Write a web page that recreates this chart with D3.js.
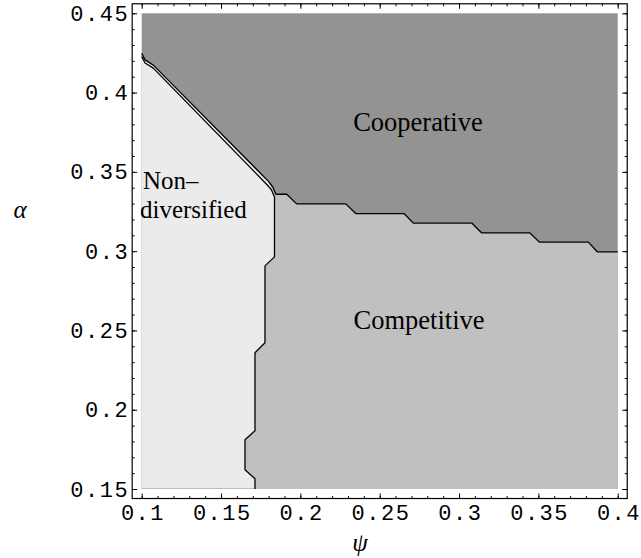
<!DOCTYPE html>
<html><head><meta charset="utf-8">
<script src="https://cdn.jsdelivr.net/npm/d3@7"></script>
<style>body{margin:0;background:#fff}svg{display:block}</style>
</head><body>
<svg id="c" width="641" height="558"></svg>
<script>
// ---- data ----
const psiDomain = [0.1, 0.4];
const alphaDomain = [0.15, 0.45];
const xTickValues = [0.1, 0.15, 0.2, 0.25, 0.3, 0.35, 0.4];
const xTickLabels = ["0.1", "0.15", "0.2", "0.25", "0.3", "0.35", "0.4"];
const yTickValues = [0.15, 0.2, 0.25, 0.3, 0.35, 0.4, 0.45];
const yTickLabels = ["0.15", "0.2", "0.25", "0.3", "0.35", "0.4", "0.45"];
const minorStep = 0.01;

// upper boundary: cooperative region above it
const coopBoundaryPsi   = [0.1, 0.1021, 0.1073, 0.1799, 0.1828, 0.1846, 0.1914, 0.1977, 0.2286, 0.2349, 0.2653, 0.2712, 0.3080, 0.3143, 0.3447, 0.3506, 0.3815, 0.3871, 0.4];
const coopBoundaryAlpha = [0.4247, 0.4206, 0.4173, 0.3440, 0.3402, 0.3359, 0.3359, 0.3298, 0.3298, 0.3237, 0.3237, 0.3177, 0.3177, 0.3115, 0.3115, 0.3057, 0.3057, 0.2996, 0.2996];
// lower boundary: non-diversified region to its left
const nondivBoundaryPsi   = [0.1, 0.1021, 0.1073, 0.1790, 0.1818, 0.1837, 0.1837, 0.1777, 0.1777, 0.1714, 0.1714, 0.1651, 0.1651, 0.1714, 0.1714];
const nondivBoundaryAlpha = [0.4228, 0.4187, 0.4154, 0.3419, 0.3386, 0.3342, 0.2964, 0.2907, 0.2422, 0.2359, 0.1868, 0.1811, 0.1622, 0.1565, 0.15];

const regionNames = ["Cooperative", "Competitive"];
const regionPsi = [0.2741, 0.2748];
const regionAlpha = [0.3758, 0.2510];
const nondivLines = ["Non\u2013", "diversified"];

// ---- drawing ----
const svg = d3.select("#c");
const x = d3.scaleLinear().domain(psiDomain).range([141.7, 617.7]);
const y = d3.scaleLinear().domain(alphaDomain).range([489, 13.3]);
const pad = 0.006;
const fx0 = x(psiDomain[0] - pad), fx1 = x(psiDomain[1] + pad);
const fy0 = y(alphaDomain[1] + pad), fy1 = y(alphaDomain[0] - pad);

const colCoop = "#939393", colComp = "#c0c0c0", colNon = "#ebebeb";

const A = coopBoundaryPsi.map((p, i) => [p, coopBoundaryAlpha[i]]);
const B = nondivBoundaryPsi.map((p, i) => [p, nondivBoundaryAlpha[i]]);
const line = d3.line().x(d => x(d[0])).y(d => y(d[1]));

// cooperative background
svg.append("rect").attr("x", x(psiDomain[0])).attr("y", y(alphaDomain[1]))
  .attr("width", x(psiDomain[1]) - x(psiDomain[0]))
  .attr("height", y(alphaDomain[0]) - y(alphaDomain[1]))
  .attr("fill", colCoop);

// competitive: everything below A
const compPoly = A.concat([[psiDomain[1], alphaDomain[0]], [psiDomain[0], alphaDomain[0]]]);
svg.append("path").attr("d", line(compPoly) + "Z").attr("fill", colComp);

// non-diversified: left of A diagonal then B vertical
const nonPoly = [[psiDomain[0], alphaDomain[0]]].concat(A.slice(0, 4), B.slice(4));
svg.append("path").attr("d", line(nonPoly) + "Z").attr("fill", colNon);

// bottom edge line of non-div region
svg.append("line").attr("x1", x(psiDomain[0])).attr("x2", x(B[B.length - 1][0]))
  .attr("y1", y(alphaDomain[0]) - 0.5).attr("y2", y(alphaDomain[0]) - 0.5)
  .attr("stroke", "#bdbdbd").attr("stroke-width", 1);

// boundaries
[A, B].forEach(pts => {
  svg.append("path").attr("d", line(pts)).attr("fill", "none")
    .attr("stroke", "#000").attr("stroke-width", 1.3).attr("stroke-linejoin", "round");
});

// frame
svg.append("rect").attr("x", fx0).attr("y", fy0).attr("width", fx1 - fx0).attr("height", fy1 - fy0)
  .attr("fill", "none").attr("stroke", "#000").attr("stroke-width", 1.2);

// ticks
const minorX = d3.range(Math.round((psiDomain[1] - psiDomain[0]) / minorStep) + 1).map(i => psiDomain[0] + i * minorStep);
const minorY = d3.range(Math.round((alphaDomain[1] - alphaDomain[0]) / minorStep) + 1).map(i => alphaDomain[0] + i * minorStep);
const majorLen = 5, minorLen = 2.5;

function styleAxis(g) { g.select(".domain").remove(); g.selectAll("line").attr("stroke", "#000").attr("stroke-width", 1); }

svg.append("g").attr("transform", `translate(0,${fy1})`)
  .call(d3.axisBottom(x).tickValues(minorX).tickSize(-minorLen).tickFormat("")).call(styleAxis);
svg.append("g").attr("transform", `translate(0,${fy0})`)
  .call(d3.axisTop(x).tickValues(minorX).tickSize(-minorLen).tickFormat("")).call(styleAxis);
svg.append("g").attr("transform", `translate(${fx0},0)`)
  .call(d3.axisLeft(y).tickValues(minorY).tickSize(-minorLen).tickFormat("")).call(styleAxis);
svg.append("g").attr("transform", `translate(${fx1},0)`)
  .call(d3.axisRight(y).tickValues(minorY).tickSize(-minorLen).tickFormat("")).call(styleAxis);

svg.append("g").attr("transform", `translate(0,${fy0})`)
  .call(d3.axisTop(x).tickValues(xTickValues).tickSize(-majorLen).tickFormat("")).call(styleAxis);
svg.append("g").attr("transform", `translate(${fx1},0)`)
  .call(d3.axisRight(y).tickValues(yTickValues).tickSize(-majorLen).tickFormat("")).call(styleAxis);

const tickFont = "'Liberation Mono','Courier New',monospace";
const gx = svg.append("g").attr("transform", `translate(0,${fy1})`)
  .call(d3.axisBottom(x).tickValues(xTickValues).tickSize(-majorLen).tickPadding(6)
    .tickFormat((d, i) => xTickLabels[i])).call(styleAxis);
gx.selectAll("text").attr("font-family", tickFont).attr("font-size", 22)
  .attr("letter-spacing", "1.5px").attr("fill", "#000").attr("dx", "0.75");

const gy = svg.append("g").attr("transform", `translate(${fx0},0)`)
  .call(d3.axisLeft(y).tickValues(yTickValues).tickSize(-majorLen).tickPadding(3)
    .tickFormat((d, i) => yTickLabels[i])).call(styleAxis);
gy.selectAll("text").attr("font-family", tickFont).attr("font-size", 22)
  .attr("letter-spacing", "1.5px").attr("fill", "#000");

// axis titles
const serif = "'Liberation Serif','Times New Roman',serif";
svg.append("text").attr("x", 360).attr("y", 551).attr("text-anchor", "middle")
  .attr("font-family", serif).attr("font-style", "italic").attr("font-size", 25).text("\u03C8");
svg.append("text").attr("x", 20).attr("y", 218).attr("text-anchor", "middle")
  .attr("font-family", serif).attr("font-style", "italic").attr("font-size", 25).text("\u03B1");

// region labels
regionNames.forEach((t, i) => {
  svg.append("text").attr("x", x(regionPsi[i])).attr("y", y(regionAlpha[i]))
    .attr("text-anchor", "middle").attr("font-family", serif).attr("font-size", 26.5).text(t);
});
svg.append("text").attr("x", x(0.1008)).attr("y", y(0.3393))
  .attr("font-family", serif).attr("font-size", 25).text(nondivLines[0]);
svg.append("text").attr("x", x(0.0989)).attr("y", y(0.3210))
  .attr("font-family", serif).attr("font-size", 25).text(nondivLines[1]);
</script>
</body></html>
